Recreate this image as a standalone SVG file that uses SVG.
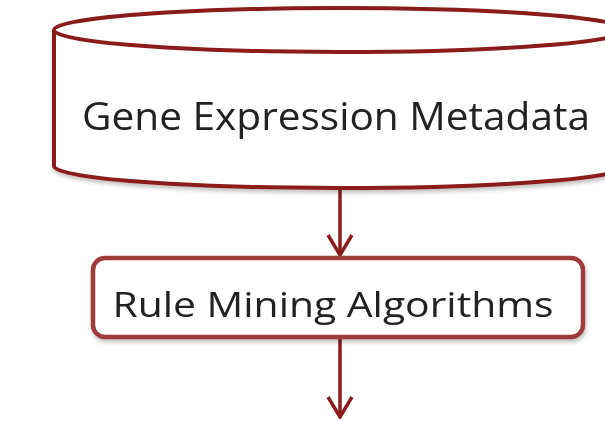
<svg xmlns="http://www.w3.org/2000/svg" width="605" height="421" viewBox="0 0 605 421">
  <style>
    .label { font-family: "Open Sans", "Liberation Sans", sans-serif; fill: #222; text-anchor: middle; }
    .store { fill: #fff; stroke: #8b1a1a; stroke-width: 4; }
    .step { fill: #fff; stroke: #a03a3a; stroke-width: 4.5; }
    .flow { fill: none; stroke: #8b1d1d; stroke-width: 3.5; }
  </style>
  <defs>
    <!-- open chevron head, drawn pointing along +x so orient="auto" turns it with the line -->
    <marker id="chevron" viewBox="0 0 24 28" refX="22" refY="14" markerWidth="24" markerHeight="28" markerUnits="userSpaceOnUse" orient="auto">
      <path d="M2 2 L22 14 L2 26" fill="none" stroke="#8b1d1d" stroke-width="3.5"/>
    </marker>
    <filter id="soft" x="-5%" y="-10%" width="110%" height="130%">
      <feGaussianBlur in="SourceAlpha" stdDeviation="2"/>
      <feOffset dx="1" dy="3" result="b"/>
      <feComponentTransfer><feFuncA type="linear" slope="0.25"/></feComponentTransfer>
      <feMerge><feMergeNode/><feMergeNode in="SourceGraphic"/></feMerge>
    </filter>
  </defs>
  <rect width="605" height="421" fill="#fff"/>

  <g id="connectors">
    <path class="flow" d="M340 188 V255" marker-end="url(#chevron)"/>
    <path class="flow" d="M340 338 V417" marker-end="url(#chevron)"/>
  </g>

  <g id="gene-expression-metadata" filter="url(#soft)">
    <path class="store" d="M54 30 V166 A286 22 0 0 0 626 166 V30"/>
    <ellipse class="store" cx="340" cy="30" rx="286" ry="22"/>
    <text class="label" x="336" y="130" font-size="39" textLength="508" lengthAdjust="spacingAndGlyphs">Gene Expression Metadata</text>
  </g>

  <g id="rule-mining-algorithms" filter="url(#soft)">
    <rect class="step" x="93" y="258" width="490" height="79" rx="12" ry="12"/>
    <text class="label" x="333" y="317" font-size="35" textLength="441" lengthAdjust="spacingAndGlyphs">Rule Mining Algorithms</text>
  </g>
</svg>
